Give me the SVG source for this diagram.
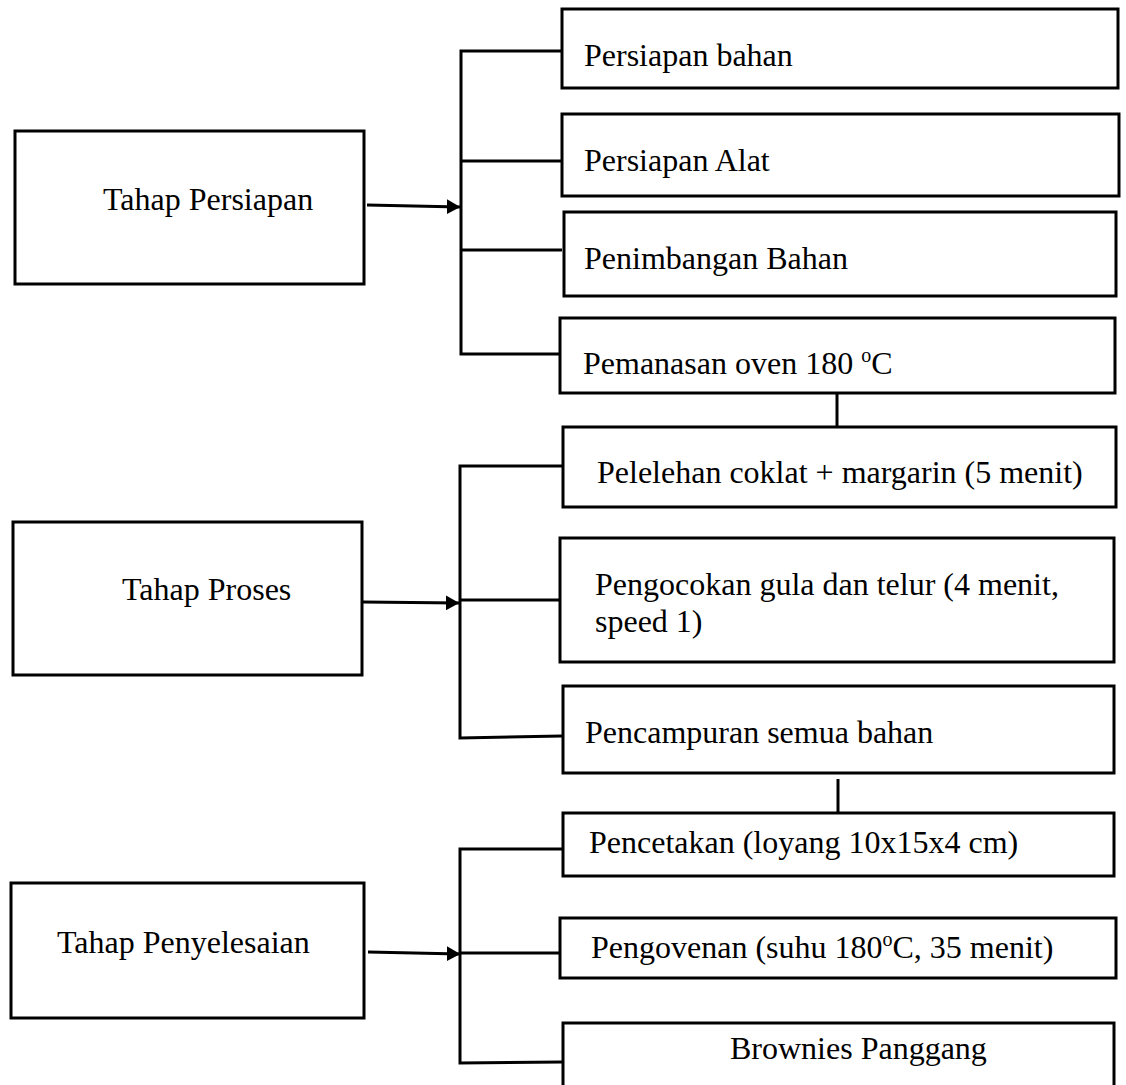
<svg xmlns="http://www.w3.org/2000/svg" width="1126" height="1085" viewBox="0 0 1126 1085">
<style>
.box{fill:#fff;stroke:#000;stroke-width:3}
.t{font-family:"Liberation Serif","Times New Roman",serif;font-size:32px;fill:#000}
.c{fill:none;stroke:#000;stroke-width:3}
</style>
<defs>
<marker id="ah" markerWidth="4.6" markerHeight="5.2" refX="4.4" refY="2.5" orient="auto" markerUnits="strokeWidth">
<path d="M0,0 L4.5,2.5 L0,5 Z" fill="#000"/>
</marker>
</defs>
<rect width="1126" height="1085" fill="#fff"/>
<g id="connectors">
<path class="c" d="M367,205 L460,207" marker-end="url(#ah)"/>
<path class="c" d="M562,51 H461 V354 H562 M461,161 H562 M461,250 H562"/>
<path class="c" d="M837,393 V427"/>
<path class="c" d="M363,602 L459,603" marker-end="url(#ah)"/>
<path class="c" d="M563,466 H460 V738 L562,736 M460,600 H560"/>
<path class="c" d="M838,779 V813"/>
<path class="c" d="M368,952 L460,954" marker-end="url(#ah)"/>
<path class="c" d="M563,849 H460 V1063 L562,1062 M460,953 H560"/>
</g>
<g id="tahap-persiapan"><rect class="box" x="15" y="131" width="349" height="153"/><text class="t" x="103" y="210">Tahap Persiapan</text></g>
<g id="persiapan-bahan"><rect class="box" x="562" y="9" width="556" height="79"/><text class="t" x="584" y="66">Persiapan bahan</text></g>
<g id="persiapan-alat"><rect class="box" x="562" y="114" width="557" height="82"/><text class="t" x="584" y="171">Persiapan Alat</text></g>
<g id="penimbangan"><rect class="box" x="564" y="212" width="552" height="84"/><text class="t" x="584" y="269">Penimbangan Bahan</text></g>
<g id="pemanasan"><rect class="box" x="560" y="318" width="555" height="75"/><text class="t" x="583" y="374">Pemanasan oven 180 <tspan font-size="20" dy="-12">o</tspan><tspan dy="12">C</tspan></text></g>
<g id="pelelehan"><rect class="box" x="563" y="427" width="553" height="80"/><text class="t" x="597" y="483">Pelelehan coklat + margarin (5 menit)</text></g>
<g id="tahap-proses"><rect class="box" x="13" y="522" width="349" height="153"/><text class="t" x="122" y="600">Tahap Proses</text></g>
<g id="pengocokan"><rect class="box" x="560" y="538" width="554" height="124"/><text class="t" x="595" y="595">Pengocokan gula dan telur (4 menit,</text><text class="t" x="595" y="632">speed 1)</text></g>
<g id="pencampuran"><rect class="box" x="563" y="686" width="551" height="87"/><text class="t" x="585" y="743">Pencampuran semua bahan</text></g>
<g id="pencetakan"><rect class="box" x="563" y="813" width="551" height="63"/><text class="t" x="589" y="853">Pencetakan (loyang 10x15x4 cm)</text></g>
<g id="tahap-penyelesaian"><rect class="box" x="11" y="883" width="353" height="135"/><text class="t" x="57" y="953">Tahap Penyelesaian</text></g>
<g id="pengovenan"><rect class="box" x="560" y="918" width="556" height="60"/><text class="t" x="591" y="958">Pengovenan (suhu 180<tspan font-size="20" dy="-12">o</tspan><tspan dy="12">C, 35 menit)</tspan></text></g>
<g id="brownies"><rect class="box" x="563" y="1023" width="551" height="70"/><text class="t" x="730" y="1059">Brownies Panggang</text></g>
</svg>
